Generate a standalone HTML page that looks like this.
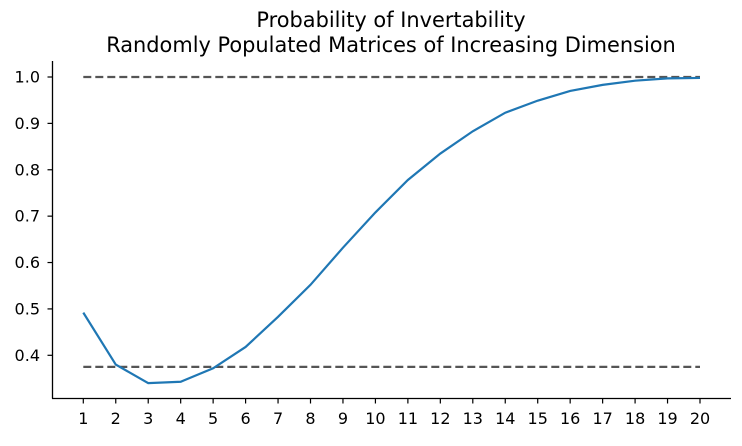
<!DOCTYPE html>
<html><head><meta charset="utf-8"><style>
body{margin:0;background:#fff}
svg{font-family:"DejaVu Sans","Liberation Sans",sans-serif}
</style></head><body>
<svg id="chart" width="742" height="441" xmlns="http://www.w3.org/2000/svg">
<text x="391" y="27" text-anchor="middle" font-size="20.9">Probability of Invertability</text>
<text x="391" y="52" text-anchor="middle" font-size="20.9">Randomly Populated Matrices of Increasing Dimension</text>
<g id="plot"></g>
</svg>
<script>
const dims = [1,2,3,4,5,6,7,8,9,10,11,12,13,14,15,16,17,18,19,20];
const probs = [0.492,0.38,0.34,0.343,0.372,0.418,0.483,0.552,0.632,0.708,0.778,0.835,0.883,0.923,0.949,0.970,0.983,0.992,0.997,0.998];
const yTicks = [0.4,0.5,0.6,0.7,0.8,0.9,1.0];
const refLines = [1.0,0.375];

const NS="http://www.w3.org/2000/svg";
const g=document.getElementById('plot');
const X=d=>83.3+(d-1)*(700-83.3)/19;
const Y=v=>355.3-(v-0.4)*(355.3-77)/0.6;
function mk(t,a){const e=document.createElementNS(NS,t);for(const k in a)e.setAttribute(k,a[k]);g.appendChild(e);return e;}

refLines.forEach(v=>{
  const l=mk('line',{x1:X(1),x2:X(20),y1:Y(v),y2:Y(v),stroke:'#555','stroke-width':2.2,'stroke-dasharray':'8,4'});
  
  
});
const p=mk('polyline',{points:dims.map((d,i)=>X(d)+','+Y(probs[i])).join(' '),fill:'none',stroke:'#1f77b4','stroke-width':2.2});



const ys=mk('line',{x1:52.5,x2:52.5,y1:61,y2:398.5,stroke:'#000','stroke-width':1.3});


const xs=mk('line',{x1:52,x2:731,y1:398.5,y2:398.5,stroke:'#000','stroke-width':1.3});



yTicks.forEach(v=>{
  mk('line',{x1:47.5,x2:52.5,y1:Y(v),y2:Y(v),stroke:'#000','stroke-width':1.2});
  const t=mk('text',{x:40,y:Y(v)+5.5,'text-anchor':'end','font-size':16});
  t.textContent=v.toFixed(1);
  
  
});
dims.forEach(d=>{
  mk('line',{x1:X(d),x2:X(d),y1:398.5,y2:403.5,stroke:'#000','stroke-width':1.2});
  const t=mk('text',{x:X(d),y:424,'text-anchor':'middle','font-size':16});
  t.textContent=d;
  
  
});
</script>
</body></html>
